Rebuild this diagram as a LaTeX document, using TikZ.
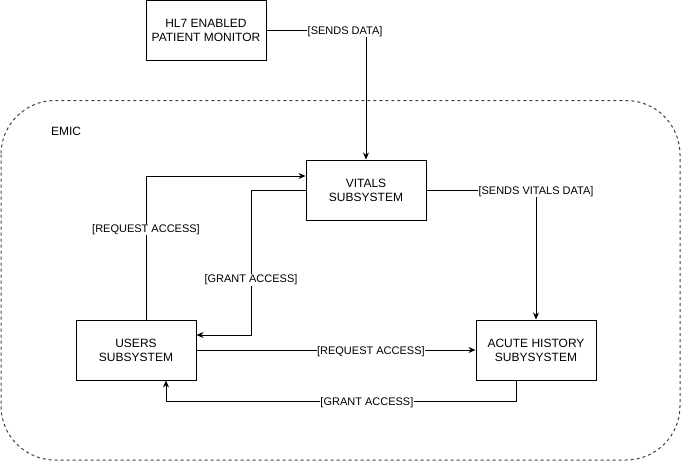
\documentclass[tikz,border=0pt]{standalone}
\usepackage{fontspec}
\setmainfont{Liberation Sans}
\usetikzlibrary{arrows.meta,calc}

\tikzset{
	subsys/.style={draw, line width=1pt, minimum width=120pt, minimum height=60pt, inner sep=0pt, align=center, font=\fontsize{12}{14}\selectfont},
	flow/.style={line width=1pt, -{Stealth[length=7pt,width=6pt]}},
	lbl/.style={fill=white, inner sep=0.5pt, yshift=-1.5pt, font=\fontsize{11}{13}\selectfont}
}

\begin{document}
\begin{tikzpicture}[x=1pt, y=-1pt]
	\useasboundingbox (0,0) rectangle (681,461);
	
	\draw[line width=1pt, dash pattern=on 3pt off 3pt, rounded corners=54pt, black!75] (1,100.5) rectangle (680,460);
	\node[font=\fontsize{12}{14}\selectfont] (emic) at (66,131) {EMIC};
	
	\node[subsys] (monitor) at (206,30) {HL7 ENABLED\\PATIENT MONITOR};
	\node[subsys] (vitals) at (366,190) {VITALS\\SUBSYSTEM};
	\node[subsys] (users) at (136,350) {USERS\\SUBSYSTEM};
	\node[subsys] (acute) at (536,350) {ACUTE HISTORY\\SUBYSYSTEM};
	
	\draw[flow] (monitor.east) -| node[lbl, pos=0.395] {[SENDS DATA]} (vitals.north);
	\draw[flow] (vitals.east) -| node[lbl, pos=0.5] {[SENDS VITALS DATA]} (acute.north);
	
	\draw[flow] ($(users.north)+(10,0)$) |- node[lbl, pos=0.32] {[REQUEST ACCESS]} ($(vitals.west)+(0,-14)$);
	\draw[flow] (vitals.west) -| node[lbl, pos=0.805] {[GRANT ACCESS]} (251,335) -- ($(users.east)+(0,-15)$);
	
	\draw[flow] (users.east) -- node[lbl, pos=0.625] {[REQUEST ACCESS]} (acute.west);
	\draw[flow] ($(acute.south)+(-20,0)$) -- (516,401) -- node[lbl, pos=0.426] {[GRANT ACCESS]} (166,401) -- ($(users.south)+(30,0)$);
	
\end{tikzpicture}
\end{document}
